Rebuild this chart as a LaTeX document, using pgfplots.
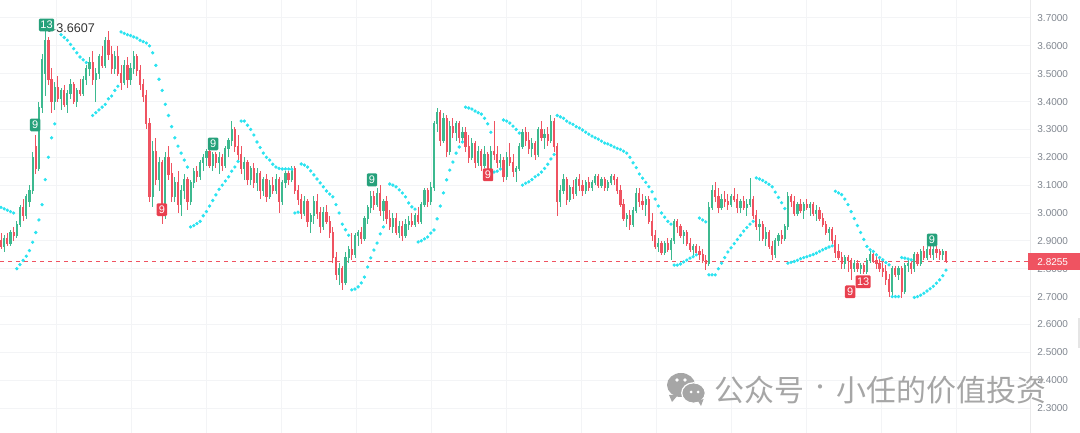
\documentclass[border=0pt]{standalone}
\usepackage{pgfplots}
\pgfplotsset{compat=1.18}
\usepackage{pgfplotstable}
\usepackage{fontspec}
\setmainfont{Liberation Sans}
\newfontfamily\cjk{Noto Sans CJK SC}
\definecolor{upc}{HTML}{3DB98F}
\definecolor{dnc}{HTML}{EF5361}
\definecolor{sarc}{HTML}{2BE3F0}
\definecolor{gridc}{HTML}{F3F4F6}
\definecolor{tickc}{HTML}{80868F}
\definecolor{tdg}{HTML}{26A17B}
\definecolor{tdr}{HTML}{E8404F}
\definecolor{wm}{HTML}{A6A6A6}

\pgfplotstableread{
i o h l c
0 2.90 2.93 2.87 2.88
1 2.88 2.92 2.86 2.91
2 2.91 2.93 2.88 2.89
3 2.89 2.94 2.88 2.93
4 2.93 2.95 2.90 2.92
5 2.92 2.97 2.91 2.96
6 2.96 3.03 2.95 3.02
7 3.02 3.05 2.97 2.99
8 2.99 3.07 2.98 3.06
9 3.04 3.10 3.02 3.08
10 3.08 3.22 3.07 3.20
11 3.24 3.28 3.14 3.16
12 3.16 3.40 3.15 3.38
13 3.38 3.57 3.36 3.55
14 3.50 3.6607 3.42 3.62
15 3.62 3.63 3.46 3.48
16 3.48 3.52 3.36 3.40
17 3.40 3.47 3.37 3.45
18 3.45 3.49 3.40 3.41
19 3.41 3.45 3.37 3.44
20 3.44 3.46 3.38 3.39
21 3.39 3.44 3.36 3.43
22 3.43 3.48 3.41 3.46
23 3.46 3.47 3.39 3.40
24 3.40 3.45 3.38 3.44
25 3.44 3.48 3.42 3.43
26 3.43 3.49 3.42 3.48
27 3.48 3.53 3.46 3.52
28 3.52 3.56 3.49 3.54
29 3.54 3.58 3.46 3.48
30 3.48 3.52 3.40 3.50
31 3.50 3.57 3.48 3.56
32 3.56 3.60 3.52 3.53
33 3.53 3.63 3.52 3.62
34 3.62 3.655 3.55 3.57
35 3.57 3.60 3.50 3.52
36 3.52 3.58 3.50 3.56
37 3.56 3.60 3.49 3.50
38 3.50 3.53 3.44 3.47
39 3.47 3.55 3.46 3.53
40 3.53 3.56 3.45 3.48
41 3.48 3.54 3.46 3.52
42 3.52 3.58 3.50 3.56
43 3.56 3.57 3.49 3.51
44 3.51 3.53 3.44 3.46
45 3.46 3.48 3.40 3.42
46 3.42 3.44 3.30 3.32
47 3.32 3.34 3.04 3.06
48 3.06 3.26 3.02 3.22
49 3.22 3.27 3.10 3.12
50 3.12 3.20 3.08 3.18
51 3.18 3.19 2.96 2.99
52 2.99 3.22 2.98 3.20
53 3.20 3.24 3.12 3.14
54 3.14 3.18 3.04 3.06
55 3.06 3.13 3.04 3.11
56 3.11 3.15 3.00 3.03
57 3.03 3.10 2.99 3.08
58 3.08 3.14 3.05 3.12
59 3.12 3.13 3.01 3.04
60 3.04 3.12 3.03 3.11
61 3.11 3.16 3.09 3.15
62 3.15 3.17 3.11 3.13
63 3.13 3.19 3.12 3.18
64 3.18 3.21 3.15 3.20
65 3.20 3.23 3.17 3.22
66 3.22 3.24 3.16 3.17
67 3.17 3.22 3.15 3.21
68 3.21 3.22 3.16 3.18
69 3.18 3.22 3.14 3.20
70 3.20 3.21 3.15 3.17
71 3.17 3.24 3.16 3.23
72 3.23 3.27 3.20 3.26
73 3.26 3.33 3.24 3.30
74 3.30 3.31 3.22 3.24
75 3.24 3.28 3.19 3.21
76 3.21 3.24 3.14 3.16
77 3.16 3.20 3.12 3.18
78 3.18 3.19 3.10 3.12
79 3.12 3.17 3.10 3.16
80 3.16 3.18 3.09 3.11
81 3.11 3.16 3.08 3.14
82 3.14 3.15 3.05 3.08
83 3.08 3.13 3.06 3.12
84 3.12 3.14 3.04 3.06
85 3.06 3.12 3.05 3.10
86 3.10 3.13 3.07 3.08
87 3.08 3.14 3.07 3.12
88 3.12 3.13 3.00 3.04
89 3.04 3.12 3.03 3.11
90 3.11 3.15 3.09 3.14
91 3.14 3.15 3.10 3.12
92 3.12 3.17 3.11 3.16
93 3.16 3.17 3.07 3.08
94 3.08 3.10 3.03 3.05
95 3.05 3.07 2.98 3.00
96 3.00 3.06 2.99 3.04
97 3.04 3.05 2.95 2.97
98 2.97 3.00 2.93 2.99
99 2.99 3.06 2.96 3.04
100 3.04 3.07 2.98 3.00
101 3.00 3.02 2.93 2.95
102 2.95 3.02 2.94 3.00
103 3.00 3.03 2.96 2.97
104 2.97 2.99 2.91 2.93
105 2.93 2.95 2.82 2.84
106 2.84 2.86 2.76 2.78
107 2.78 2.82 2.74 2.80
108 2.80 2.81 2.724 2.75
109 2.75 2.86 2.74 2.84
110 2.84 2.88 2.82 2.87
111 2.87 2.93 2.83 2.85
112 2.85 2.93 2.84 2.92
113 2.92 2.94 2.88 2.93
114 2.93 2.95 2.89 2.91
115 2.91 2.99 2.90 2.98
116 2.98 3.03 2.96 3.02
117 3.02 3.08 3.00 3.06
118 3.06 3.08 3.01 3.03
119 3.03 3.09 3.02 3.07
120 3.07 3.10 2.99 3.01
121 3.01 3.05 2.97 3.04
122 3.04 3.06 2.96 2.98
123 2.98 3.01 2.94 2.95
124 2.95 3.00 2.93 2.98
125 2.98 3.00 2.92 2.93
126 2.93 2.97 2.91 2.95
127 2.95 2.97 2.90 2.92
128 2.92 2.98 2.91 2.96
129 2.96 2.99 2.94 2.97
130 2.97 3.00 2.95 2.96
131 2.96 3.00 2.95 2.99
132 2.99 3.02 2.96 2.97
133 2.97 3.04 2.96 3.03
134 3.03 3.09 3.02 3.08
135 3.08 3.09 3.02 3.04
136 3.04 3.11 3.03 3.09
137 3.09 3.33 3.08 3.32
138 3.32 3.377 3.29 3.36
139 3.36 3.37 3.24 3.26
140 3.26 3.36 3.25 3.34
141 3.34 3.35 3.20 3.22
142 3.22 3.33 3.21 3.31
143 3.31 3.34 3.27 3.29
144 3.29 3.33 3.26 3.32
145 3.32 3.33 3.25 3.27
146 3.27 3.31 3.26 3.29
147 3.29 3.31 3.22 3.24
148 3.24 3.28 3.18 3.20
149 3.20 3.27 3.19 3.25
150 3.25 3.26 3.16 3.18
151 3.18 3.24 3.17 3.22
152 3.22 3.23 3.15 3.17
153 3.17 3.24 3.16 3.21
154 3.21 3.22 3.14 3.16
155 3.16 3.24 3.15 3.22
156 3.22 3.33 3.19 3.21
157 3.21 3.24 3.16 3.18
158 3.18 3.21 3.16 3.19
159 3.19 3.20 3.11 3.13
160 3.13 3.22 3.12 3.20
161 3.20 3.25 3.17 3.18
162 3.18 3.21 3.13 3.15
163 3.15 3.17 3.11 3.16
164 3.16 3.25 3.15 3.24
165 3.24 3.30 3.23 3.29
166 3.29 3.31 3.24 3.26
167 3.26 3.29 3.21 3.23
168 3.23 3.27 3.20 3.25
169 3.25 3.26 3.19 3.21
170 3.21 3.31 3.20 3.30
171 3.30 3.33 3.26 3.27
172 3.27 3.30 3.23 3.28
173 3.28 3.31 3.24 3.26
174 3.26 3.35 3.25 3.33
175 3.33 3.34 3.22 3.24
176 3.24 3.25 2.99 3.04
177 3.04 3.10 3.02 3.08
178 3.08 3.14 3.07 3.12
179 3.12 3.13 3.03 3.05
180 3.05 3.10 3.04 3.09
181 3.09 3.12 3.05 3.07
182 3.07 3.13 3.06 3.12
183 3.12 3.14 3.08 3.10
184 3.10 3.12 3.06 3.08
185 3.08 3.12 3.07 3.11
186 3.11 3.13 3.08 3.09
187 3.09 3.12 3.08 3.11
188 3.11 3.14 3.10 3.13
189 3.13 3.14 3.09 3.10
190 3.10 3.13 3.09 3.12
191 3.12 3.13 3.08 3.09
192 3.09 3.12 3.08 3.11
193 3.11 3.14 3.10 3.13
194 3.13 3.14 3.10 3.12
195 3.12 3.13 3.07 3.08
196 3.08 3.10 3.02 3.03
197 3.03 3.05 2.97 2.98
198 2.98 3.00 2.95 2.99
199 2.99 3.01 2.94 2.96
200 2.96 3.02 2.95 3.01
201 3.01 3.09 3.00 3.07
202 3.07 3.09 3.02 3.04
203 3.04 3.07 3.01 3.03
204 3.03 3.06 2.99 3.05
205 3.05 3.06 2.96 2.97
206 2.97 3.00 2.90 2.92
207 2.92 2.94 2.87 2.88
208 2.88 2.91 2.86 2.89
209 2.89 2.90 2.85 2.86
210 2.86 2.90 2.85 2.89
211 2.89 2.91 2.86 2.87
212 2.87 2.91 2.83 2.90
213 2.90 2.98 2.89 2.97
214 2.97 2.98 2.93 2.95
215 2.95 2.96 2.91 2.92
216 2.92 2.94 2.89 2.93
217 2.93 2.94 2.88 2.89
218 2.89 2.91 2.86 2.87
219 2.87 2.89 2.845 2.88
220 2.88 2.89 2.855 2.86
221 2.86 2.88 2.83 2.85
222 2.85 2.87 2.82 2.83
223 2.83 2.85 2.795 2.82
224 2.82 3.04 2.81 3.02
225 3.02 3.10 3.01 3.08
226 3.08 3.11 3.04 3.06
227 3.06 3.09 3.00 3.02
228 3.02 3.07 3.01 3.05
229 3.05 3.08 3.02 3.04
230 3.04 3.07 3.01 3.03
231 3.03 3.07 3.02 3.06
232 3.06 3.09 3.04 3.05
233 3.05 3.07 3.00 3.02
234 3.02 3.05 3.00 3.04
235 3.04 3.06 3.01 3.02
236 3.02 3.05 2.99 3.03
237 3.03 3.126 3.02 3.05
238 3.05 3.06 2.98 2.99
239 2.99 3.01 2.94 2.95
240 2.95 2.98 2.90 2.96
241 2.96 2.97 2.90 2.91
242 2.91 2.95 2.88 2.93
243 2.93 2.94 2.87 2.88
244 2.88 2.90 2.83 2.85
245 2.85 2.91 2.84 2.90
246 2.90 2.93 2.88 2.92
247 2.92 2.94 2.89 2.91
248 2.91 2.96 2.90 2.95
249 2.95 3.075 2.94 3.06
250 3.06 3.07 3.02 3.04
251 3.04 3.06 2.99 3.00
252 3.00 3.04 2.99 3.03
253 3.03 3.05 3.00 3.01
254 3.01 3.04 2.98 3.03
255 3.03 3.05 3.01 3.02
256 3.02 3.04 2.99 3.03
257 3.03 3.04 2.99 3.00
258 3.00 3.03 2.97 3.01
259 3.01 3.02 2.97 2.98
260 2.98 3.00 2.95 2.96
261 2.96 2.97 2.92 2.93
262 2.93 2.95 2.90 2.94
263 2.94 2.95 2.89 2.90
264 2.90 2.92 2.84 2.86
265 2.86 2.89 2.83 2.84
266 2.84 2.86 2.80 2.82
267 2.82 2.85 2.80 2.84
268 2.84 2.85 2.79 2.83
269 2.83 2.84 2.76 2.80
270 2.80 2.83 2.79 2.82
271 2.82 2.83 2.79 2.80
272 2.80 2.82 2.78 2.81
273 2.81 2.82 2.78 2.79
274 2.79 2.84 2.78 2.83
275 2.83 2.865 2.82 2.85
276 2.85 2.855 2.82 2.83
277 2.83 2.845 2.80 2.82
278 2.82 2.835 2.79 2.80
279 2.80 2.825 2.77 2.79
280 2.79 2.815 2.74 2.76
281 2.76 2.78 2.70 2.72
282 2.72 2.81 2.70 2.80
283 2.80 2.81 2.77 2.78
284 2.78 2.81 2.76 2.80
285 2.80 2.81 2.695 2.72
286 2.72 2.82 2.71 2.81
287 2.81 2.83 2.79 2.82
288 2.82 2.83 2.78 2.80
289 2.80 2.86 2.79 2.85
290 2.85 2.86 2.81 2.82
291 2.82 2.87 2.81 2.86
292 2.86 2.88 2.83 2.84
293 2.84 2.88 2.83 2.87
294 2.87 2.89 2.84 2.85
295 2.85 2.88 2.83 2.87
296 2.87 2.88 2.84 2.86
297 2.86 2.87 2.83 2.85
298 2.85 2.87 2.83 2.86
299 2.86 2.865 2.82 2.8255
}\ohlc

\pgfplotstableread{
i s
0 3.02
1 3.015
2 3.01
3 3.005
4 3.00
5 2.80
6 2.815
7 2.83
8 2.845
9 2.865
10 2.895
11 2.93
12 2.975
13 3.03
14 3.12
15 3.20
16 3.27
17 3.32
19 3.64
20 3.63
21 3.62
22 3.605
23 3.59
24 3.575
25 3.56
26 3.55
27 3.54
29 3.35
30 3.36
31 3.37
32 3.38
33 3.39
34 3.41
35 3.42
36 3.44
37 3.455
38 3.65
39 3.645
40 3.64
41 3.637
42 3.632
43 3.628
44 3.62
45 3.615
46 3.61
47 3.60
48 3.575
49 3.53
50 3.48
51 3.44
52 3.39
53 3.35
54 3.31
55 3.27
56 3.24
57 3.215
58 3.19
59 3.165
60 2.95
61 2.955
62 2.962
63 2.97
64 2.99
65 3.005
66 3.025
67 3.045
68 3.065
69 3.085
70 3.10
71 3.115
72 3.13
73 3.15
74 3.165
75 3.185
76 3.33
77 3.33
78 3.315
79 3.30
80 3.28
81 3.255
82 3.235
83 3.215
84 3.20
85 3.19
86 3.175
87 3.165
88 3.16
89 3.158
90 3.158
91 3.158
92 3.157
93 3.00
94 3.003
95 3.176
96 3.172
97 3.165
98 3.151
99 3.137
100 3.122
101 3.108
102 3.094
103 3.079
104 3.068
105 3.058
106 3.03
107 3.00
108 2.96
109 2.94
110 2.92
111 2.724
112 2.727
113 2.735
114 2.749
115 2.77
116 2.806
117 2.839
118 2.867
119 2.892
120 2.925
121 2.95
123 3.104
124 3.10
125 3.094
126 3.083
127 3.072
128 3.058
129 3.036
130 3.022
131 3.014
132 2.896
133 2.90
134 2.907
135 2.914
136 2.928
137 2.939
138 2.979
139 3.025
140 3.072
141 3.119
142 3.154
143 3.183
144 3.215
145 3.237
146 3.255
147 3.38
148 3.377
149 3.373
150 3.366
151 3.36
152 3.355
153 3.34
154 3.32
155 3.29
156 3.147
157 3.15
158 3.158
159 3.334
160 3.33
161 3.323
162 3.312
163 3.30
164 3.287
165 3.10
166 3.107
167 3.112
168 3.12
169 3.13
170 3.137
171 3.147
172 3.16
173 3.175
174 3.194
175 3.21
176 3.35
177 3.345
178 3.34
179 3.33
180 3.323
181 3.318
182 3.31
183 3.305
184 3.298
185 3.29
186 3.283
187 3.276
188 3.27
189 3.265
190 3.258
191 3.251
192 3.248
193 3.243
194 3.237
195 3.232
196 3.228
197 3.222
198 3.215
199 3.20
200 3.18
201 3.163
202 3.14
203 3.125
204 3.11
205 3.094
206 3.076
207 3.05
208 3.025
209 3.00
210 2.985
211 2.97
212 2.96
213 2.813
214 2.813
215 2.817
216 2.824
217 2.831
218 2.838
219 2.843
220 2.85
221 2.982
222 2.975
223 2.968
224 2.778
225 2.778
226 2.778
227 2.80
228 2.82
229 2.84
230 2.86
231 2.875
232 2.89
233 2.905
234 2.92
235 2.935
236 2.948
237 2.96
238 2.97
239 3.126
240 3.122
241 3.117
242 3.11
243 3.103
244 3.094
245 3.075
246 3.056
247 3.037
248 3.016
249 2.82
250 2.823
251 2.826
252 2.83
253 2.836
254 2.84
255 2.843
256 2.847
257 2.851
258 2.856
259 2.862
260 2.868
261 2.873
262 2.878
263 2.882
264 3.078
265 3.072
266 3.066
267 3.05
268 3.03
269 3.005
270 2.98
271 2.955
272 2.93
273 2.905
274 2.88
275 2.868
276 2.862
277 2.85
278 2.84
279 2.832
280 2.822
281 2.814
282 2.70
283 2.70
284 2.70
285 2.84
286 2.838
287 2.835
288 2.832
289 2.697
290 2.70
291 2.705
292 2.712
293 2.72
294 2.728
295 2.737
296 2.748
297 2.76
298 2.775
299 2.795
}\sar

\pgfplotstableread{
x y lab
10.8 3.316 9
14.4 3.675 13
67.1 3.248 9
117.4 3.119 9
294.6 2.903 9
}\tdgreen

\pgfplotstableread{
x y lab
50.9 3.012 9
154.1 3.137 9
268.7 2.717 9
272.8 2.753 13
}\tdred

\begin{document}
\begin{tikzpicture}
\path[use as bounding box] (0,0) rectangle (540pt,216.5pt);
\begin{axis}[
  at={(0,0)}, anchor=south west,
  scale only axis, width=515pt, height=216.5pt,
  xmin=-0.316, xmax=325.6, ymin=2.2103, ymax=3.7646,
  axis line style={draw=none},
  clip=false,
  ytick={2.3,2.4,2.5,2.6,2.7,2.8,2.9,3.0,3.1,3.2,3.3,3.4,3.5,3.6,3.7},
  yticklabel pos=right,
  major tick length=0pt,
  yticklabel style={/pgf/number format/fixed, /pgf/number format/fixed zerofill, /pgf/number format/precision=4, /pgf/number format/assume math mode=true, anchor=west, inner sep=0pt, xshift=3.5pt, font=\fontsize{5}{6}\selectfont, text=tickc},
  xtick={17.63,41.36,65.09,88.83,112.56,136.29,160.03,183.76,207.5,231.2,254.9,278.7,302.4},
  xticklabels={},
  grid=major, major grid style={gridc, line width=0.5pt},
]
\draw[gridc!80!gray!60, line width=0.5pt] (rel axis cs:1,0) -- (rel axis cs:1,1);
% last price line
\addplot[forget plot, dnc, line width=0.6pt, dash pattern=on 2pt off 2pt] coordinates {(-0.316,2.8255) (325.6,2.8255)};
% wicks
\addplot[forget plot, draw=none, mark=none, error bars/.cd, y dir=both, y explicit, error mark=none, error bar style={draw=upc, line width=0.45pt}]
  table[x=i, y expr={\thisrow{c}>=\thisrow{o} ? (\thisrow{h}+\thisrow{l})/2 : nan}, y error expr={(\thisrow{h}-\thisrow{l})/2}] {\ohlc};
\addplot[forget plot, draw=none, mark=none, error bars/.cd, y dir=both, y explicit, error mark=none, error bar style={draw=dnc, line width=0.45pt}]
  table[x=i, y expr={\thisrow{c}<\thisrow{o} ? (\thisrow{h}+\thisrow{l})/2 : nan}, y error expr={(\thisrow{h}-\thisrow{l})/2}] {\ohlc};
% bodies
\addplot[forget plot, draw=none, mark=none, error bars/.cd, y dir=both, y explicit, error mark=none, error bar style={draw=upc, line width=1.1pt}]
  table[x=i, y expr={\thisrow{c}>=\thisrow{o} ? (\thisrow{o}+\thisrow{c})/2 : nan}, y error expr={abs(\thisrow{c}-\thisrow{o})/2+0.002}] {\ohlc};
\addplot[forget plot, draw=none, mark=none, error bars/.cd, y dir=both, y explicit, error mark=none, error bar style={draw=dnc, line width=1.1pt}]
  table[x=i, y expr={\thisrow{c}<\thisrow{o} ? (\thisrow{o}+\thisrow{c})/2 : nan}, y error expr={abs(\thisrow{c}-\thisrow{o})/2+0.002}] {\ohlc};
% parabolic SAR
\addplot[forget plot, color=sarc, only marks, mark=*, mark size=0.62pt] table[x=i, y=s] {\sar};
% TD labels
\addplot[forget plot, draw=none, mark=none, nodes near coords, point meta=explicit symbolic,
  nodes near coords style={anchor=center, fill=tdg, text=white, font=\fontsize{5.5}{6}\selectfont, inner sep=0.7pt, minimum width=5.2pt, minimum height=6.4pt, rounded corners=0.6pt}]
  table[x=x, y=y, meta=lab] {\tdgreen};
\addplot[forget plot, draw=none, mark=none, nodes near coords, point meta=explicit symbolic,
  nodes near coords style={anchor=center, fill=tdr, text=white, font=\fontsize{5.5}{6}\selectfont, inner sep=0.7pt, minimum width=5.2pt, minimum height=6.4pt, rounded corners=0.6pt}]
  table[x=x, y=y, meta=lab] {\tdred};
% high annotation
\draw[-stealth, line width=0.5pt, black!80] (axis cs:16.6,3.667) -- (axis cs:15.0,3.650);
\node[anchor=west, inner sep=0pt, font=\fontsize{6.3}{7}\selectfont, text=black!80] at (axis cs:17.4,3.663) {3.6607};
% last price tag
\node[fill=dnc, anchor=west, minimum width=26pt, minimum height=8.5pt, inner sep=0pt, xshift=-1pt] at ({rel axis cs:1,0} |- {axis cs:0,2.8255}) {};
\node[anchor=west, inner sep=0pt, xshift=3.5pt, text=white, font=\fontsize{5}{6}\selectfont] at ({rel axis cs:1,0} |- {axis cs:0,2.8255}) {2.8255};
\end{axis}
% scrollbar hint at right edge
\fill[gray!20] (539pt,42.5pt) rectangle (540pt,57.5pt);
% watermark
\begin{scope}
\fill[wm] (340.5pt,24pt) ellipse (7pt and 6pt);
\fill[wm] (334.5pt,19pt) -- (336pt,15.5pt) -- (339pt,19pt) -- cycle;
\fill[white] (338.5pt,26.5pt) circle (0.9pt);
\fill[white] (342.5pt,26.5pt) circle (0.9pt);
\fill[wm, draw=white, line width=0.6pt] (346.75pt,20pt) ellipse (5.9pt and 5.1pt);
\fill[wm] (349pt,16pt) -- (350.5pt,13.5pt) -- (351.8pt,17pt) -- cycle;
\fill[white] (345.5pt,20.5pt) circle (0.75pt);
\fill[white] (349pt,20.5pt) circle (0.75pt);
\node[anchor=west, inner sep=0pt, text=wm, font=\cjk\fontsize{15}{16}\selectfont] at (357pt,21.5pt) {公众号};
\node[anchor=center, inner sep=0pt, text=wm, font=\cjk\fontsize{10}{12}\selectfont] at (410pt,21.5pt) {·};
\node[anchor=west, inner sep=0pt, text=wm, font=\cjk\fontsize{15}{16}\selectfont] at (418pt,21.5pt) {小任的价值投资};
\end{scope}
\end{tikzpicture}
\end{document}
